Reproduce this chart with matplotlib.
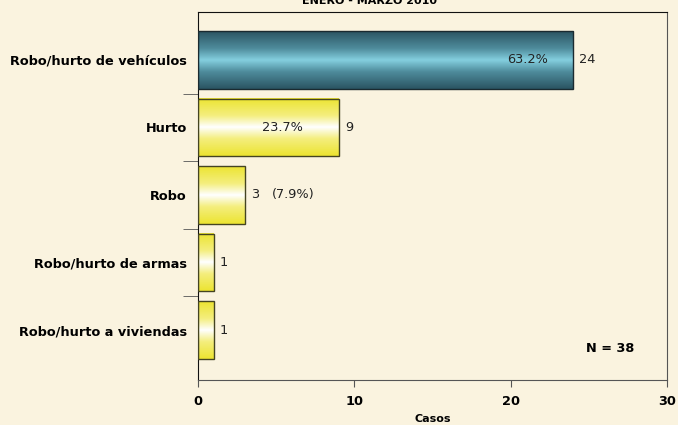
import numpy as np
import matplotlib
matplotlib.use('Agg')
import matplotlib.pyplot as plt
from matplotlib.colors import LinearSegmentedColormap

# Datos
categorias = ['Robo/hurto de vehículos', 'Hurto', 'Robo',
              'Robo/hurto de armas', 'Robo/hurto a viviendas']
casos = [24, 9, 3, 1, 1]
porcentajes = ['63.2%', '23.7%', '(7.9%)', '', '']
total = 38

fondo = '#FAF3DF'
fig = plt.figure(figsize=(6.78, 4.25), dpi=100, facecolor=fondo)
ax = fig.add_axes([198 / 678, 45 / 425, 469 / 678, 368 / 425], facecolor=fondo)

cmap_azul = LinearSegmentedColormap.from_list(
    'azul', [(0, '#2A5462'), (0.3, '#4F8C9C'), (0.5, '#84CFDF'),
             (0.7, '#4F8C9C'), (1, '#2A5462')])
cmap_amar = LinearSegmentedColormap.from_list(
    'amar', [(0, '#ECE430'), (0.3, '#F4EE7E'), (0.5, '#FFFFFF'),
             (0.7, '#F4EE7E'), (1, '#ECE430')])
grad = np.linspace(0, 1, 256).reshape(-1, 1)

alto = 0.85
for i, (cat, v) in enumerate(zip(categorias, casos)):
    cmap = cmap_azul if i == 0 else cmap_amar
    ax.imshow(grad, aspect='auto', cmap=cmap,
              extent=[0, v, i + alto / 2, i - alto / 2], zorder=2)
    ax.add_patch(plt.Rectangle((0, i - alto / 2), v, alto, fill=False,
                               edgecolor='#1A2A30' if i == 0 else '#444422',
                               linewidth=1, zorder=3))
    ax.text(v + 0.4, i, str(v), va='center', ha='left', fontsize=9.3, color='#222222')

# porcentajes
ax.text(24 - 2.9, 0, porcentajes[0], va='center', ha='center', fontsize=9.3, color='#222222')
ax.text(5.4, 1, porcentajes[1], va='center', ha='center', fontsize=9.3, color='#222222')
ax.text(3 + 1.75, 2, porcentajes[2], va='center', ha='left', fontsize=9.3, color='#222222')

ax.set_xlim(0, 30)
ax.set_ylim(4.74, -0.71)
ax.set_yticks(range(len(categorias)))
ax.set_yticklabels(categorias, fontweight='bold', fontsize=9.3)
ax.tick_params(axis='y', length=0, pad=8)
ax.set_yticks(np.arange(0.5, len(categorias) - 0.5, 1), minor=True)
ax.tick_params(axis='y', which='minor', length=11, color='#555555')

ax.set_xticks([0, 10, 20, 30])
ax.set_xticklabels(['0', '10', '20', '30'], fontweight='bold', fontsize=9.3)
ax.tick_params(axis='x', length=5, color='#555555', pad=6)
ax.set_xlabel('Casos', fontweight='bold', fontsize=8, labelpad=4)

for s in ['bottom', 'right']:
    ax.spines[s].set_color('#555555')
ax.spines['left'].set_color('#111111')
ax.spines['top'].set_color('#111111')

ax.text(0.93, 0.085, 'N = 38', transform=ax.transAxes, ha='right', va='center',
        fontweight='bold', fontsize=9.3)

fig.text(370 / 678, 0.998, 'ENERO - MARZO 2010', ha='center', va='center',
         fontweight='bold', fontsize=8)

fig.savefig('out.png', dpi=100, facecolor=fondo)
